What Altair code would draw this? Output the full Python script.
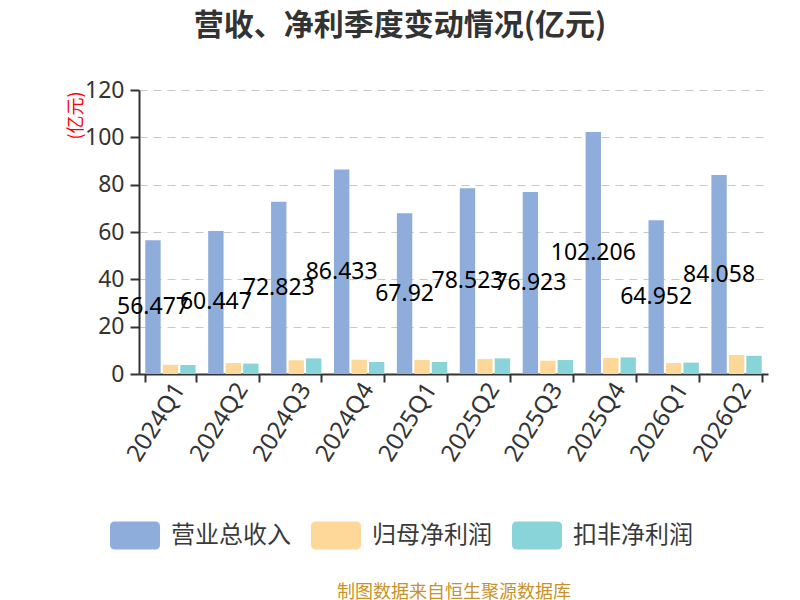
import altair as alt
import pandas as pd

quarters = ["2024Q1", "2024Q2", "2024Q3", "2024Q4", "2025Q1",
            "2025Q2", "2025Q3", "2025Q4", "2026Q1", "2026Q2"]
revenue = [56.477, 60.447, 72.823, 86.433, 67.92, 78.523, 76.923, 102.206, 64.952, 84.058]
parent_profit = [3.9, 4.6, 5.8, 6.0, 5.9, 6.3, 5.6, 6.8, 4.6, 8.0]
deducted_profit = [3.8, 4.4, 6.6, 5.1, 5.1, 6.6, 5.9, 7.0, 4.8, 7.7]
series_names = ["营业总收入", "归母净利润", "扣非净利润"]
colors = ["#8eaddb", "#fdd899", "#88d4d8"]
y_ticks = [0, 20, 40, 60, 80, 100, 120]

FONT = "Noto Sans CJK SC"
NUM_FONT = "Noto Sans"

rows = []
for i, q in enumerate(quarters):
    for s, vals in zip(series_names, [revenue, parent_profit, deducted_profit]):
        rows.append({"quarter": q, "series": s, "value": vals[i],
                     "half": vals[i] / 2, "label": f"{vals[i]:g}"})
df = pd.DataFrame(rows)

rounded_rect = ("M-0.8,-0.56 L0.8,-0.56 Q1,-0.56 1,-0.36 L1,0.36 "
                "Q1,0.56 0.8,0.56 L-0.8,0.56 Q-1,0.56 -1,0.36 "
                "L-1,-0.36 Q-1,-0.56 -0.8,-0.56 Z")

x_enc = alt.X(
    "quarter:N", sort=quarters,
    scale=alt.Scale(paddingInner=0.2, paddingOuter=0.1),
    axis=alt.Axis(
        title="制图数据来自恒生聚源数据库", titleColor="#c8922a", titleFontSize=18,
        titleFontWeight="normal", titleFont=FONT, titleX=314.5, titleY=218,
        titleAlign="center", titleBaseline="middle",
        labelAngle=-58, labelFontSize=24, labelColor="#333", labelFont=NUM_FONT,
        labelPadding=3, labelOffset=9, tickBand="extent", tickSize=8, tickColor="#333",
        tickWidth=2, domainColor="#333", domainWidth=2, grid=False,
    ),
)
xoff_enc = alt.XOffset("series:N", sort=series_names,
                       scale=alt.Scale(domain=series_names, paddingInner=0.12, paddingOuter=0))

y_axis = alt.Axis(
    title="(亿元)", titleColor="red", titleFontSize=18, titleFontWeight="normal",
    titleFont=FONT, titleX=-63, titleY=25, titleAlign="center", titleBaseline="middle",
    titleAngle=270, values=y_ticks, labelFontSize=23, labelColor="#333", labelFont=NUM_FONT,
    labelPadding=6, tickSize=9, tickColor="#333", tickWidth=2, domainColor="#333",
    domainWidth=2, grid=True, gridDash=[8, 6], gridColor="#c8c8c8", gridWidth=1.2,
)

base = alt.Chart(df)

bars = base.mark_bar().encode(
    x=x_enc,
    xOffset=xoff_enc,
    y=alt.Y("value:Q", scale=alt.Scale(domain=[0, 120], nice=False), axis=y_axis),
    color=alt.Color(
        "series:N", sort=series_names,
        scale=alt.Scale(domain=series_names, range=colors),
        legend=alt.Legend(
            title=None, orient="none", legendX=-29, legendY=420.5, direction="horizontal",
            symbolType=rounded_rect, symbolSize=2500, symbolStrokeWidth=0,
            symbolOpacity=1, labelFontSize=24, labelColor="#3a3a3a", labelFont=FONT,
            labelOffset=11, columnPadding=20,
        ),
    ),
)

labels = base.transform_filter(alt.datum.series == "营业总收入").mark_text(
    fontSize=23, color="black", font=NUM_FONT, baseline="middle", align="center"
).encode(
    x=x_enc,
    xOffset=xoff_enc,
    y=alt.Y("half:Q", title="(亿元)"),
    text="label:N",
)

chart = alt.layer(bars, labels).properties(
    width=629, height=284,
    title=alt.TitleParams(
        "营收、净利季度变动情况(亿元)", fontSize=30, fontWeight="bold", color="#333",
        font=FONT, anchor="middle", frame="group", dx=-53.5, offset=38,
    ),
    autosize=alt.AutoSizeParams(type="none"),
    padding={"left": 131, "top": 82, "right": 24, "bottom": 226},
).configure_view(stroke=None)

chart.save("out.html", embed_options={"renderer": "svg", "actions": False})
